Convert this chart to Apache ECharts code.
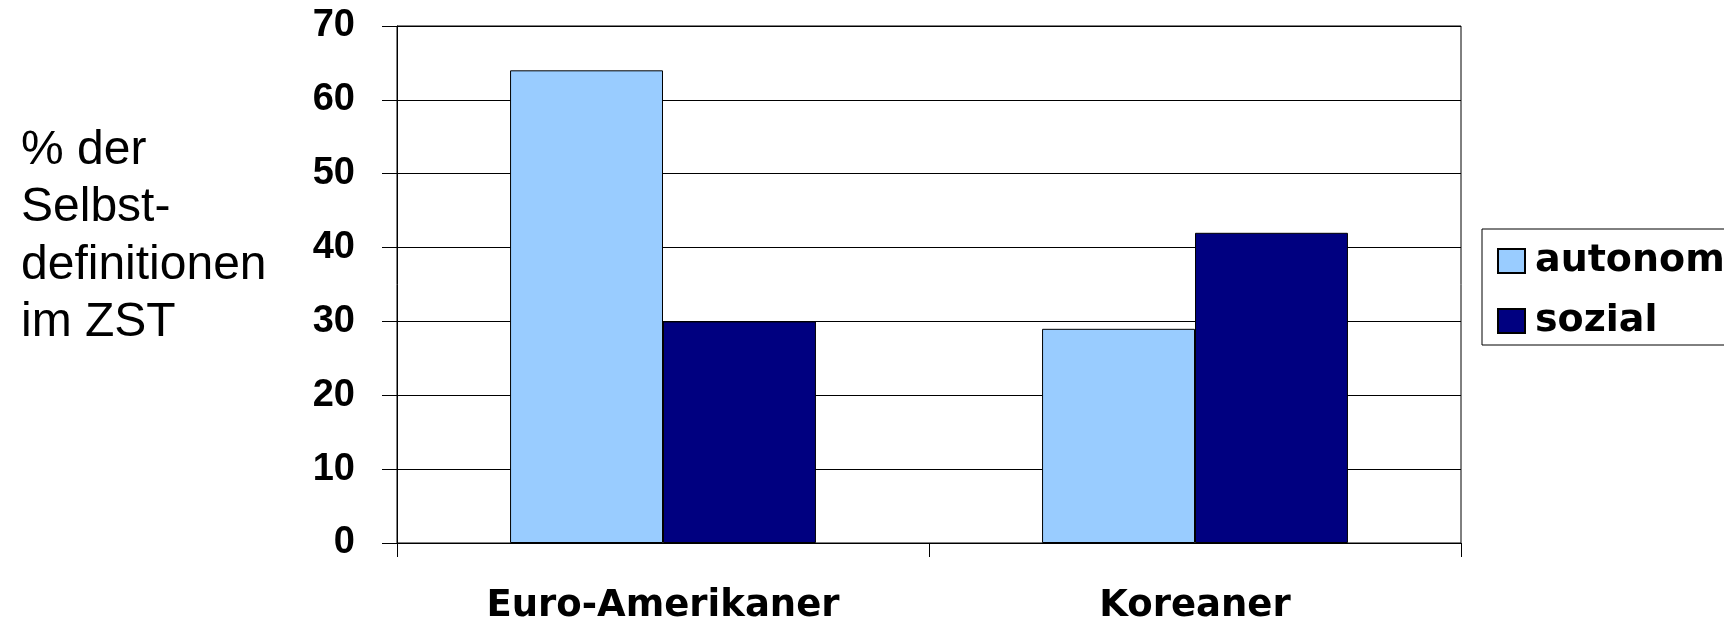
<!DOCTYPE html>
<html>
<head>
<meta charset="utf-8">
<script src="https://cdn.jsdelivr.net/npm/echarts@6/dist/echarts.min.js"></script>
<style>
  html, body { margin: 0; padding: 0; background: #fff; }
  #chart { width: 1724px; height: 625px; }
</style>
</head>
<body>
<div id="chart"></div>
<script>
// Self-definitions in the Twenty Statements Test, by group
const categories = ['Euro-Amerikaner', 'Koreaner'];
const seriesNames = ['autonom', 'sozial'];
const autonomValues = [64, 29];
const sozialValues = [30, 42];
const yTicks = [0, 10, 20, 30, 40, 50, 60, 70];
const yAxisTitle = '% der\nSelbst-\ndefinitionen\nim ZST';

const chart = echarts.init(document.getElementById('chart'), null, { renderer: 'canvas' });

const boldWide = 'DejaVu Sans';
const arial = 'Liberation Sans';

chart.setOption({
  animation: false,
  backgroundColor: '#ffffff',
  title: {
    text: yAxisTitle,
    left: 16,
    top: 117,
    textStyle: {
      fontFamily: arial,
      fontWeight: 'normal',
      fontSize: 48,
      lineHeight: 57.5,
      color: '#000'
    }
  },
  legend: {
    orient: 'vertical',
    left: 1482,
    top: 229,
    padding: [13, 15, 5, 15],
    itemGap: 22,
    itemWidth: 27,
    itemHeight: 24,
    icon: 'rect',
    borderColor: '#000',
    borderWidth: 1,
    backgroundColor: '#fff',
    data: seriesNames,
    textStyle: {
      fontFamily: boldWide,
      fontWeight: 'bold',
      fontSize: 38,
      lineHeight: 36,
      color: '#000',
      padding: [0, 0, 0, 5]
    }
  },
  grid: {
    left: 397,
    right: 263,
    top: 26,
    bottom: 80,
    show: true,
    borderColor: '#000',
    borderWidth: 1,
    backgroundColor: 'transparent'
  },
  xAxis: {
    type: 'category',
    data: categories,
    boundaryGap: true,
    axisLine: { show: true, lineStyle: { color: '#000', width: 1 } },
    axisTick: { show: true, length: 14, inside: false, lineStyle: { color: '#000', width: 1 } },
    axisLabel: {
      margin: 45,
      fontFamily: boldWide,
      fontWeight: 'bold',
      fontSize: 37,
      color: '#000'
    },
    splitLine: { show: false }
  },
  yAxis: {
    type: 'value',
    min: yTicks[0],
    max: yTicks[yTicks.length - 1],
    interval: yTicks[1] - yTicks[0],
    axisLine: { show: true, lineStyle: { color: '#000', width: 1 } },
    axisTick: { show: true, length: 15, inside: false, lineStyle: { color: '#000', width: 1 } },
    axisLabel: {
      margin: 42,
      fontFamily: arial,
      fontWeight: 'bold',
      fontSize: 38,
      color: '#000'
    },
    splitLine: { show: true, lineStyle: { color: '#000', width: 1 } }
  },
  series: [
    {
      name: seriesNames[0],
      type: 'bar',
      data: autonomValues,
      barGap: '0%',
      barCategoryGap: '42.5%',
      itemStyle: { color: '#99ccff', borderColor: '#000', borderWidth: 1 }
    },
    {
      name: seriesNames[1],
      type: 'bar',
      data: sozialValues,
      barGap: '0%',
      barCategoryGap: '42.5%',
      itemStyle: { color: '#000080', borderColor: '#000', borderWidth: 1 }
    }
  ]
});
</script>
</body>
</html>
